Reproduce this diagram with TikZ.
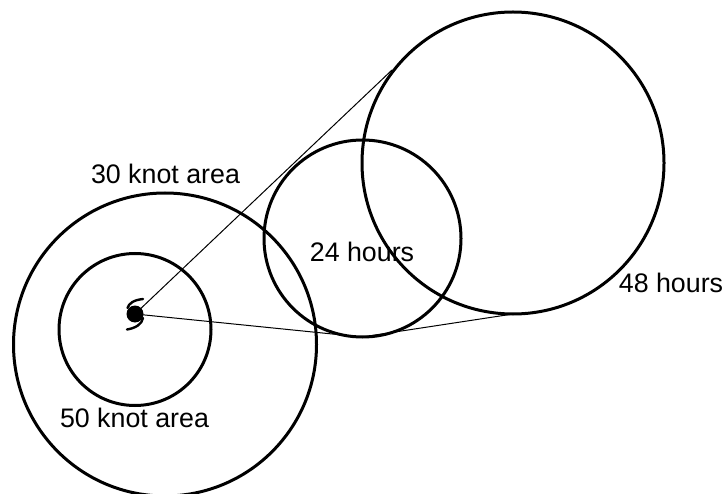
\documentclass[tikz,border=0pt]{standalone}
\usepackage{fontspec}
\setmainfont{Liberation Sans}
\tikzset{
  ring/.style={circle,draw=black,line width=3pt,minimum size=#1,inner sep=0pt,outer sep=0pt},
  leg/.style={draw=black,line width=1pt},
  lab/.style={font=\fontsize{26.8}{30}\selectfont,inner sep=0pt,text=black}
}
\begin{document}
\begin{tikzpicture}[x=1pt,y=-1pt]
\useasboundingbox (0,0) rectangle (725,494);
\coordinate (eye) at (135,314);
\coordinate (t48) at (392,70);
\coordinate (b48) at (513,314);
\coordinate (b24) at (362,337);
\draw[leg] (eye) -- (t48);
\draw[leg] (eye) -- (b24) -- (b48);
\node[ring=303pt] (r30) at (165,344.5) {};
\node[ring=152pt] (r50) at (135,329.5) {};
\node[ring=197pt] (h24) at (362.5,238.5) {};
\node[ring=302pt] (h48) at (513,163) {};
\fill[black] (eye) circle (8.5pt);
\draw[line width=2.4pt,line cap=round] (127.5,308) .. controls (129,303) and (134,300) .. (143,299);
\draw[line width=2.4pt,line cap=round] (143,318) .. controls (142,324) and (136,328) .. (127,329.5);
\node[lab] (a30) at (165.5,174) {30 knot area};
\node[lab] (a50) at (134.5,418) {50 knot area};
\node[lab] (l24) at (362,252) {24 hours};
\node[lab] (l48) at (671,283) {48 hours};
\end{tikzpicture}
\end{document}
